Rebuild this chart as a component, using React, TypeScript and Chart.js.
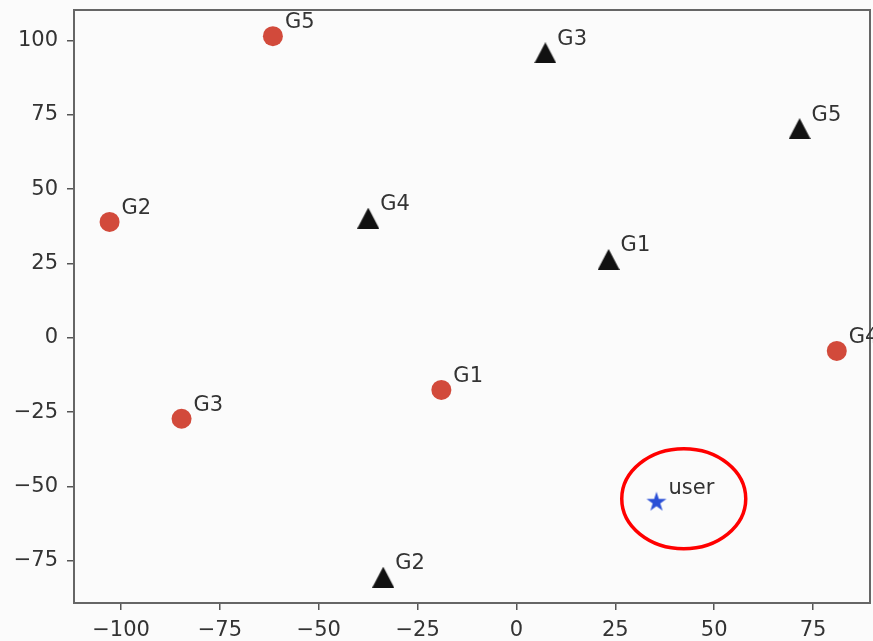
import React, { useEffect, useRef } from "react";
import { Chart, registerables } from "chart.js";

Chart.register(...registerables);

// ---- data ----
const groupLabels = ["G1", "G2", "G3", "G4", "G5"];
const circleX = [-19.0, -102.9, -84.7, 81.0, -61.6];
const circleY = [-17.5, 39.0, -27.2, -4.4, 101.5];
const triangleX = [23.3, -33.7, 7.3, -37.5, 71.6];
const triangleY = [26.4, -80.5, 95.9, 40.3, 70.4];
const userLabels = ["user"];
const userX = [35.4];
const userY = [-55.1];
const xTicks = [-100, -75, -50, -25, 0, 25, 50, 75];
const yTicks = [-75, -50, -25, 0, 25, 50, 75, 100];
const xRange = [-111.9, 89.4];
const yRange = [-89.2, 110.3];
const highlightCenter = [42.3, -54.1];

const FONT = "'DejaVu Sans', 'Liberation Sans', sans-serif";

function fmt(v: number | string): string {
  const n = Number(v);
  return n < 0 ? "\u2212" + Math.abs(n) : String(n);
}

function makeTriangle(): HTMLCanvasElement {
  const c = document.createElement("canvas");
  c.width = 22;
  c.height = 21;
  const g = c.getContext("2d")!;
  g.fillStyle = "#111111";
  g.beginPath();
  g.moveTo(11, 0);
  g.lineTo(22, 21);
  g.lineTo(0, 21);
  g.closePath();
  g.fill();
  return c;
}

function makeStar(): HTMLCanvasElement {
  const c = document.createElement("canvas");
  c.width = 22;
  c.height = 22;
  const g = c.getContext("2d")!;
  const cx = 11, cy = 11.5, R = 10.5, r = R * 0.382;
  g.fillStyle = "#2a4fd6";
  g.beginPath();
  for (let i = 0; i < 10; i++) {
    const ang = -Math.PI / 2 + (i * Math.PI) / 5;
    const rad = i % 2 === 0 ? R : r;
    const px = cx + Math.cos(ang) * rad;
    const py = cy + Math.sin(ang) * rad;
    if (i === 0) g.moveTo(px, py);
    else g.lineTo(px, py);
  }
  g.closePath();
  g.fill();
  return c;
}

const pointLabelSets = [groupLabels, groupLabels, userLabels];

const decorPlugin = {
  id: "decor",
  beforeDraw(chart: any) {
    const { ctx, width, height } = chart;
    ctx.save();
    ctx.fillStyle = "#fbfbfb";
    ctx.fillRect(0, 0, width, height);
    ctx.restore();
  },
  afterDatasetsDraw(chart: any) {
    const { ctx, chartArea: a, scales } = chart;
    ctx.save();
    // spines
    ctx.strokeStyle = "#666666";
    ctx.lineWidth = 2;
    ctx.strokeRect(a.left, a.top, a.right - a.left, a.bottom - a.top);
    // point labels
    ctx.font = `21px ${FONT}`;
    ctx.fillStyle = "#333333";
    ctx.textAlign = "left";
    ctx.textBaseline = "alphabetic";
    chart.data.datasets.forEach((_ds: any, i: number) => {
      const labels = pointLabelSets[i];
      if (!labels) return;
      const meta = chart.getDatasetMeta(i);
      meta.data.forEach((el: any, j: number) => {
        ctx.fillText(labels[j], el.x + 12, el.y - 8);
      });
    });
    // highlight ellipse
    const cx = scales.x.getPixelForValue(highlightCenter[0]);
    const cy = scales.y.getPixelForValue(highlightCenter[1]);
    ctx.strokeStyle = "#ff0000";
    ctx.lineWidth = 3.5;
    ctx.beginPath();
    ctx.ellipse(cx, cy, 62, 50, 0, 0, Math.PI * 2);
    ctx.stroke();
    ctx.restore();
  },
};

export default function App() {
  const ref = useRef<HTMLCanvasElement | null>(null);

  useEffect(() => {
    if (!ref.current) return;
    const tri = makeTriangle();
    const star = makeStar();
    const chart = new Chart(ref.current, {
      type: "scatter",
      data: {
        datasets: [
          {
            label: "circles",
            data: circleX.map((x, i) => ({ x, y: circleY[i] })),
            pointStyle: "circle",
            pointRadius: 10,
            pointHoverRadius: 10,
            backgroundColor: "#d24a3b",
            borderWidth: 0,
          },
          {
            label: "triangles",
            data: triangleX.map((x, i) => ({ x, y: triangleY[i] })),
            pointStyle: tri as any,
            pointRadius: 11,
            backgroundColor: "#111111",
            borderWidth: 0,
          },
          {
            label: "user",
            data: userX.map((x, i) => ({ x, y: userY[i] })),
            pointStyle: star as any,
            pointRadius: 11,
            backgroundColor: "#2a4fd6",
            borderWidth: 0,
          },
        ],
      },
      options: {
        responsive: false,
        animation: false,
        devicePixelRatio: 1,
        events: [],
        layout: { autoPadding: false, padding: { left: 0, top: 10, right: 3, bottom: 0 } },
        plugins: {
          legend: { display: false },
          tooltip: { enabled: false },
        },
        scales: {
          x: {
            type: "linear",
            min: xRange[0],
            max: xRange[1],
            bounds: "data",
            afterBuildTicks: (s: any) => {
              s.ticks = xTicks.map((v) => ({ value: v }));
            },
            afterFit: (s: any) => {
              s.height = 38;
              s.paddingLeft = 0;
              s.paddingRight = 0;
              s.paddingTop = 0;
              s.paddingBottom = 0;
            },
            ticks: {
              callback: (v: any) => fmt(v),
              font: { family: FONT, size: 21 },
              color: "#333333",
              padding: 8,
              maxRotation: 0,
              autoSkip: false,
            },
            grid: {
              drawOnChartArea: false,
              drawTicks: true,
              tickLength: 7,
              color: "#555555",
              lineWidth: 1.5,
            },
            border: { display: false },
          },
          y: {
            type: "linear",
            min: yRange[0],
            max: yRange[1],
            bounds: "data",
            afterBuildTicks: (s: any) => {
              s.ticks = yTicks.map((v) => ({ value: v }));
            },
            afterFit: (s: any) => {
              s.width = 74;
              s.paddingLeft = 0;
              s.paddingRight = 0;
              s.paddingTop = 0;
              s.paddingBottom = 0;
            },
            ticks: {
              callback: (v: any) => fmt(v),
              font: { family: FONT, size: 21 },
              color: "#333333",
              padding: 9,
              autoSkip: false,
            },
            grid: {
              drawOnChartArea: false,
              drawTicks: true,
              tickLength: 7,
              color: "#555555",
              lineWidth: 1.5,
            },
            border: { display: false },
          },
        },
      },
      plugins: [decorPlugin],
    } as any);
    return () => chart.destroy();
  }, []);

  return (
    <div style={{ position: "absolute", left: 0, top: 0, width: 873, height: 641 }}>
      <canvas ref={ref} width={873} height={641} style={{ display: "block", width: 873, height: 641 }} />
    </div>
  );
}
